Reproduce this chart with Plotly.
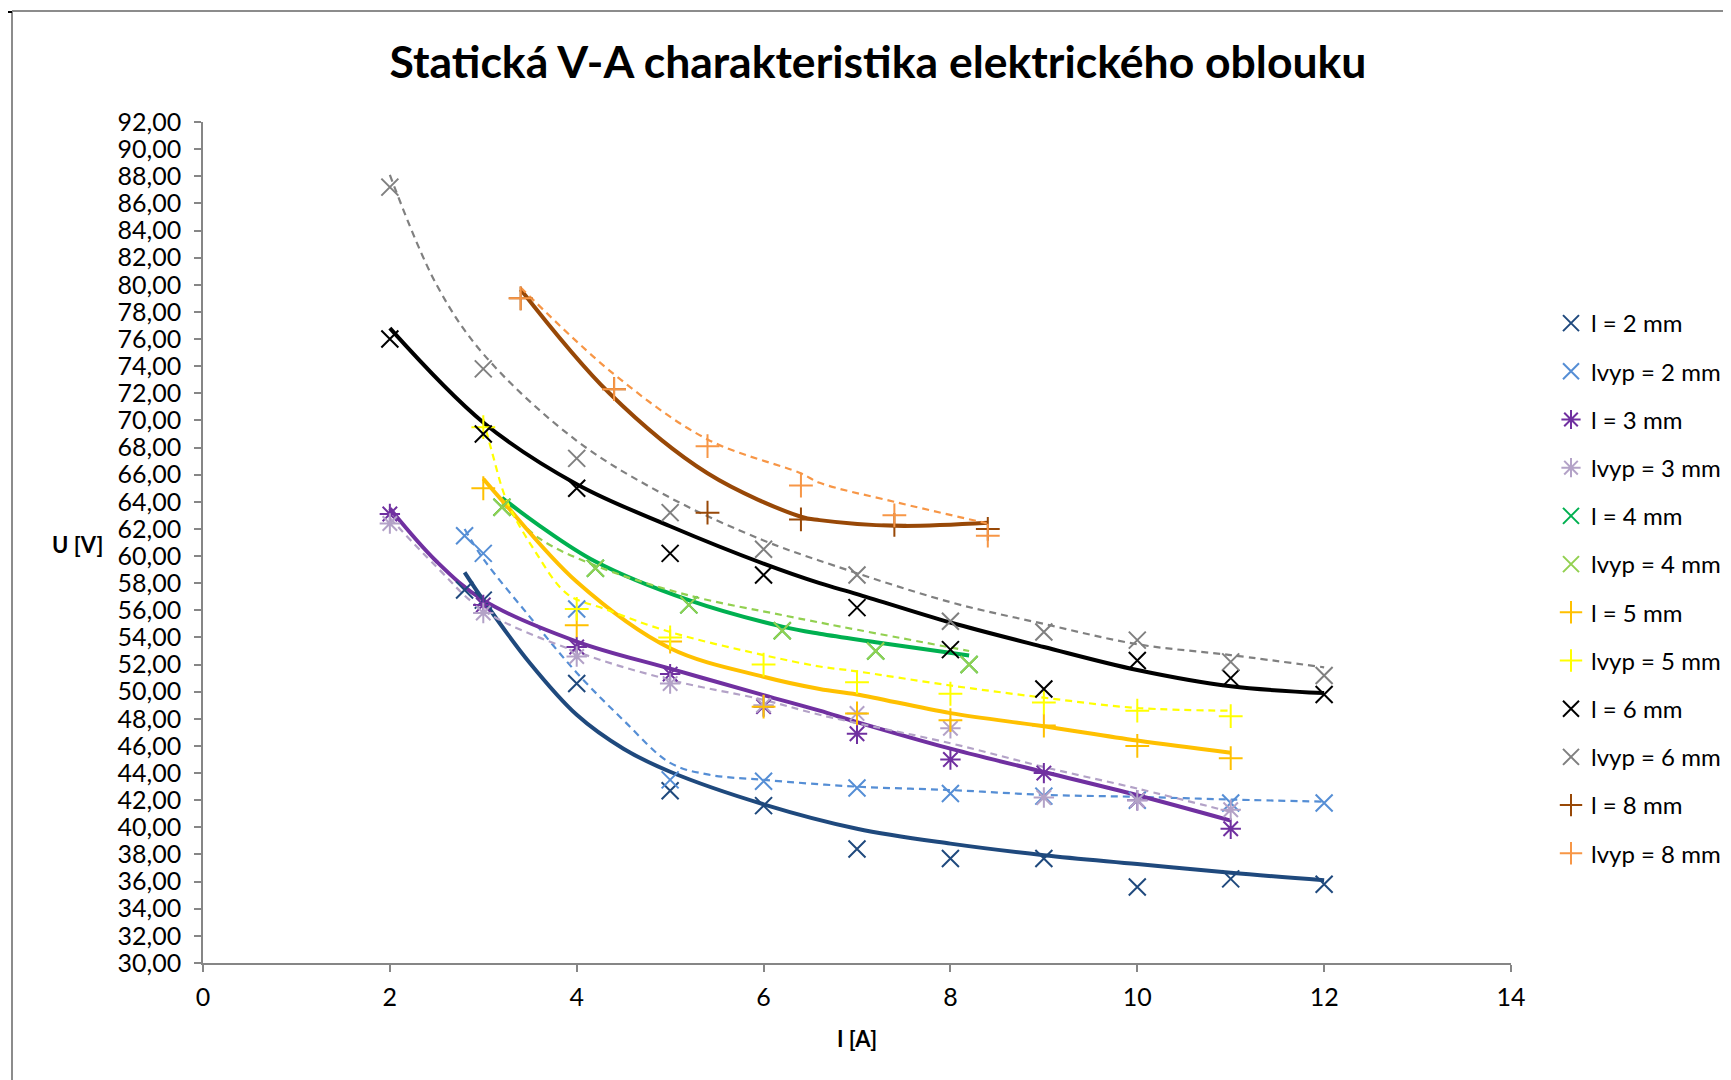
import plotly.graph_objects as go

# ---------------- data ----------------
# measured points
I_2 = [2.8, 3, 4, 5, 6, 7, 8, 9, 10, 11, 12]
U_l2 = [57.5, 56.75, 50.6, 42.7, 41.6, 38.4, 37.7, 37.7, 35.6, 36.2, 35.8]
U_lvyp2 = [61.5, 60.2, 56.1, 43.5, 43.4, 42.9, 42.5, 42.3, 42.0, 41.8, 41.8]

I_3 = [2, 3, 4, 5, 6, 7, 8, 9, 10, 11]
U_l3 = [63.1, 56.4, 53.3, 51.3, 48.9, 46.9, 45.0, 44.0, 42.0, 39.9]
U_lvyp3 = [62.4, 55.8, 52.6, 50.6, 49.0, 48.4, 47.3, 42.2, 42.0, 41.3]

I_4 = [3.2, 4.2, 5.2, 6.2, 7.2, 8.2]
U_l4 = [63.6, 59.1, 56.4, 54.5, 53.0, 52.0]
U_lvyp4 = [63.6, 59.1, 56.4, 54.5, 53.0, 52.0]

I_5 = [3, 4, 5, 6, 7, 8, 9, 10, 11]
U_l5 = [65.0, 54.9, 53.7, 48.9, 48.4, 47.9, 47.5, 46.0, 45.1]
U_lvyp5 = [69.5, 56.1, 54.0, 52.0, 50.7, 49.85, 49.2, 48.6, 48.2]

I_6 = [2, 3, 4, 5, 6, 7, 8, 9, 10, 11, 12]
U_l6 = [76.0, 69.0, 65.0, 60.2, 58.6, 56.2, 53.1, 50.2, 52.3, 51.0, 49.8]
U_lvyp6 = [87.2, 73.8, 67.2, 63.2, 60.5, 58.6, 55.2, 54.4, 53.8, 52.2, 51.2]

I_8 = [3.4, 4.4, 5.4, 6.4, 7.4, 8.4]
U_l8 = [79.0, 72.3, 63.2, 62.7, 62.3, 62.0]
U_lvyp8 = [79.0, 72.3, 68.1, 65.2, 63.0, 61.5]

# trend curves
T_l2_I = [2.8, 3.0, 3.5, 4, 4.5, 5, 6, 7, 8, 9, 10, 11, 12]
T_l2_U = [58.8, 56.75, 52.1, 48.3, 45.8, 44.1, 41.7, 39.9, 38.8, 37.95, 37.3, 36.65, 36.1]
T_lvyp2_I = [2.8, 3.0, 3.5, 4, 4.5, 5, 5.4, 6, 7, 8, 9, 10, 11, 12]
T_lvyp2_U = [62.0, 59.8, 55.5, 51.4, 47.9, 44.75, 43.9, 43.5, 43.0, 42.75, 42.4, 42.25, 42.05, 41.9]

T_l3_I = [2, 2.5, 3, 4, 5, 6, 6.6, 7, 8, 9, 10, 11]
T_l3_U = [63.5, 59.6, 56.75, 53.7, 51.7, 49.75, 48.6, 47.76, 45.8, 44.08, 42.37, 40.5]
T_lvyp3_I = [2, 2.5, 3, 4, 5, 6, 6.6, 8, 9, 10, 11]
T_lvyp3_U = [62.8, 59.2, 56.0, 52.95, 50.87, 49.4, 48.3, 46.2, 44.45, 42.86, 41.14]

T_l4_I = [3.2, 3.6, 4.2, 5.2, 6.2, 6.6, 7.2, 8.2]
T_l4_U = [64.3, 62.25, 59.6, 56.75, 54.8, 54.27, 53.65, 52.67]
T_lvyp4_I = [3.2, 3.6, 4.2, 5.2, 6.2, 6.6, 8.2]
T_lvyp4_U = [63.9, 61.3, 59.3, 57.1, 55.65, 55.1, 53.0]

T_l5_I = [3.0, 3.2, 4, 5, 6, 6.6, 7, 8, 9, 10, 11]
T_l5_U = [65.7, 64.1, 58.1, 53.2, 51.1, 50.2, 49.8, 48.42, 47.45, 46.4, 45.5]
T_lvyp5_I = [3.0, 3.1, 3.25, 3.55, 3.9, 4.3, 5, 6, 6.6, 7, 8, 9, 10, 11]
T_lvyp5_U = [70.1, 67.5, 64.1, 60.4, 57.2, 56.1, 54.4, 52.7, 51.86, 51.5, 50.46, 49.56, 48.8, 48.6]

T_l6_I = [2, 3, 4, 5, 6, 6.6, 7, 8, 9, 10, 11, 12]
T_l6_U = [76.8, 69.85, 65.3, 62.2, 59.44, 58.0, 57.2, 55.1, 53.3, 51.6, 50.4, 49.9]
T_lvyp6_I = [2, 2.5, 3, 4, 5, 6, 6.6, 8, 9, 10, 11, 12]
T_lvyp6_U = [88.1, 80.0, 74.9, 68.5, 64.3, 61.15, 59.66, 56.6, 55.0, 53.5, 52.7, 51.8]

T_l8_I = [3.4, 4.35, 5.4, 6.4, 6.6, 7.4, 8.4]
T_l8_U = [79.65, 72.0, 66.1, 62.9, 62.65, 62.23, 62.45]
T_lvyp8_I = [3.4, 4.4, 5.4, 6.4, 6.6, 7.4, 8.4]
T_lvyp8_U = [79.8, 73.4, 68.6, 66.1, 65.4, 64.0, 62.4]

NAMES = ["l = 2 mm", "lvyp = 2 mm", "l = 3 mm", "lvyp = 3 mm", "l = 4 mm", "lvyp = 4 mm",
         "l = 5 mm", "lvyp = 5 mm", "l = 6 mm", "lvyp = 6 mm", "l = 8 mm", "lvyp = 8 mm"]

# ---------------- styling ----------------
COLORS = ["#1F497D", "#558ED5", "#7030A0", "#B3A2C7", "#00B050", "#92D050",
          "#FFC000", "#FFFF00", "#000000", "#808080", "#984807", "#F79646"]
SYMBOLS = ["x-thin-open", "x-thin-open", "asterisk-open", "asterisk-open", "x-thin-open", "x-thin-open",
           "cross-thin-open", "cross-thin-open", "x-thin-open", "x-thin-open", "cross-thin-open", "cross-thin-open"]

POINTS = [(I_2, U_l2), (I_2, U_lvyp2), (I_3, U_l3), (I_3, U_lvyp3), (I_4, U_l4), (I_4, U_lvyp4),
          (I_5, U_l5), (I_5, U_lvyp5), (I_6, U_l6), (I_6, U_lvyp6), (I_8, U_l8), (I_8, U_lvyp8)]
TRENDS = [(T_l2_I, T_l2_U), (T_lvyp2_I, T_lvyp2_U), (T_l3_I, T_l3_U), (T_lvyp3_I, T_lvyp3_U),
          (T_l4_I, T_l4_U), (T_lvyp4_I, T_lvyp4_U), (T_l5_I, T_l5_U), (T_lvyp5_I, T_lvyp5_U),
          (T_l6_I, T_l6_U), (T_lvyp6_I, T_lvyp6_U), (T_l8_I, T_l8_U), (T_lvyp8_I, T_lvyp8_U)]

FONT = "Lato"
GRAY = "#868686"
OFF = 8  # page body margin of the browser

# plot area on screen
PX0, PX1, PY0, PY1 = 203, 1511, 122, 963

fig = go.Figure()

# trend lines
for i, (tx, ty) in enumerate(TRENDS):
    solid = (i % 2 == 0)
    fig.add_trace(go.Scatter(
        x=tx, y=ty, mode="lines", showlegend=False, hoverinfo="skip",
        line=dict(color=COLORS[i], width=4 if solid else 2.2,
                  dash="solid" if solid else "7px,5px", shape="spline", smoothing=1.0),
    ))

# markers
for i, (px, py) in enumerate(POINTS):
    fig.add_trace(go.Scatter(
        x=px, y=py, mode="markers", name=NAMES[i], legendgroup=NAMES[i],
        marker=dict(symbol=SYMBOLS[i], size=17, color=COLORS[i],
                    line=dict(color=COLORS[i], width=2)),
    ))

# screen pixel -> paper coordinates
def px2x(p):
    return (p - PX0) / float(PX1 - PX0)

def py2y(p):
    return (PY1 - p) / float(PY1 - PY0)

axis_common = dict(showline=True, linecolor=GRAY, linewidth=1.5, ticks="outside", ticklen=7,
                   tickcolor=GRAY, tickwidth=1.5, showgrid=False, zeroline=False,
                   tickfont=dict(family=FONT, size=25, color="#000"))

fig.update_layout(
    width=1731, height=1080,
    margin=dict(l=PX0 - OFF, r=1731 - PX1 + OFF, t=PY0 - OFF, b=1080 - PY1 + OFF),
    plot_bgcolor="white", paper_bgcolor="white",
    separators=", ",
    font=dict(family=FONT, color="#000"),
    title=dict(text="<b>Statická V-A charakteristika elektrického oblouku</b>",
               x=px2x(878), xref="paper", xanchor="center",
               y=1 - (62 - OFF) / 1080.0, yref="container", yanchor="middle",
               font=dict(family=FONT, size=44.5, color="#000")),
    xaxis=dict(range=[0, 14], tick0=0, dtick=2, ticklabelstandoff=4, **axis_common),
    yaxis=dict(range=[30, 92], tick0=30, dtick=2, tickformat=".2f", ticklabelstandoff=8, **axis_common),
    legend=dict(orientation="v", traceorder="grouped", tracegroupgap=14,
                x=px2x(1551), xanchor="left", y=py2y(301), yanchor="top",
                font=dict(family=FONT, size=24, color="#000"),
                bgcolor="rgba(0,0,0,0)", itemsizing="trace"),
    annotations=[
        dict(text="<b>U [V]</b>", x=px2x(77), y=py2y(544), xref="paper", yref="paper",
             showarrow=False, xanchor="center", yanchor="middle",
             font=dict(family=FONT, size=22, color="#000")),
        dict(text="<b>I [A]</b>", x=px2x(857), y=py2y(1038), xref="paper", yref="paper",
             showarrow=False, xanchor="center", yanchor="middle",
             font=dict(family=FONT, size=22, color="#000")),
    ],
    shapes=[
        dict(type="line", xref="paper", yref="paper", x0=px2x(12), x1=px2x(1740), y0=py2y(11), y1=py2y(11),
             line=dict(color="#8C8C8C", width=2)),
        dict(type="line", xref="paper", yref="paper", x0=px2x(12), x1=px2x(12), y0=py2y(11), y1=py2y(1090),
             line=dict(color="#8C8C8C", width=2)),
        dict(type="line", xref="paper", yref="paper", x0=px2x(OFF), x1=px2x(12), y0=py2y(12), y1=py2y(12),
             line=dict(color="#000000", width=2)),
    ],
)

fig.write_html("out.html")
